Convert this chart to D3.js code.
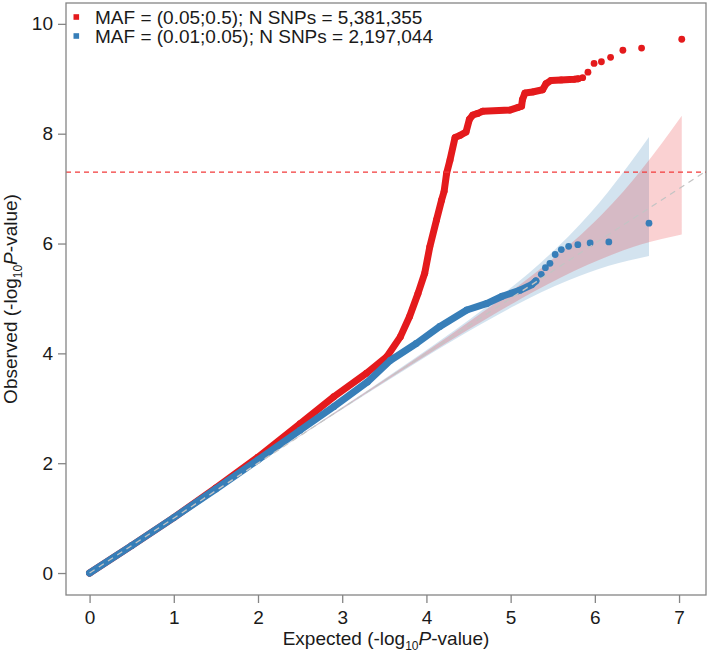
<!DOCTYPE html>
<html><head><meta charset="utf-8">
<script src="https://cdn.jsdelivr.net/npm/d3@7/dist/d3.min.js"></script>
<style>
html,body{margin:0;padding:0;background:#fff;}
svg{display:block;font-family:"Liberation Sans",Arial,Helvetica,sans-serif;}
</style></head><body>
<svg id="chart" width="709" height="657"></svg>
<script>
// ---------- data ----------
const xTickValues = [0, 1, 2, 3, 4, 5, 6, 7];
const yTickValues = [0, 2, 4, 6, 8, 10];
const seriesLabels = ["MAF = (0.05;0.5); N SNPs = 5,381,355", "MAF = (0.01;0.05); N SNPs = 2,197,044"];
const gwsLine = 7.30; // -log10(5e-8)

// common-variant series (red): dense part of the QQ curve
const redCurveExp = [0, 0.5, 1.0, 1.5, 2.0, 2.5, 2.9, 3.29, 3.53, 3.69, 3.80, 3.90, 3.98, 4.04, 4.12, 4.18, 4.21, 4.24, 4.28, 4.34, 4.40, 4.47, 4.51, 4.55, 4.61, 4.67, 4.99, 5.09, 5.13, 5.14, 5.17, 5.26, 5.38, 5.42, 5.48, 5.60, 5.753, 5.802];
const redCurveObs = [0, 0.5, 1.01, 1.55, 2.11, 2.72, 3.21, 3.64, 3.94, 4.30, 4.67, 5.09, 5.46, 5.94, 6.43, 6.79, 6.95, 7.28, 7.52, 7.93, 7.97, 8.03, 8.26, 8.34, 8.37, 8.41, 8.43, 8.48, 8.50, 8.62, 8.74, 8.76, 8.80, 8.91, 8.97, 8.98, 8.99, 9.00];
// red: isolated top points
const redPointExp = [5.856, 5.918, 5.991, 6.078, 6.187, 6.333, 6.555, 7.032];
const redPointObs = [9.02, 9.12, 9.28, 9.31, 9.39, 9.52, 9.56, 9.72];

// low-frequency series (blue): dense part
const blueCurveExp = [0, 0.5, 1.0, 1.5, 2.0, 2.5, 2.9, 3.3, 3.57, 3.88, 4.16, 4.48, 4.72, 4.9, 5.11, 5.25, 5.30];
const blueCurveObs = [0, 0.5, 1.01, 1.53, 2.06, 2.60, 3.03, 3.48, 3.87, 4.18, 4.49, 4.79, 4.91, 5.04, 5.15, 5.25, 5.32];
// blue: isolated top points
const bluePointExp = [5.364, 5.413, 5.467, 5.529, 5.602, 5.689, 5.798, 5.944, 6.166, 6.643];
const bluePointObs = [5.44, 5.56, 5.64, 5.80, 5.89, 5.95, 5.98, 6.01, 6.03, 6.37];

// 95% confidence bands
const redBandExp = [0, 2.731, 3.731, 4.254, 4.733, 5.036, 5.261, 5.441, 5.753, 6.078, 6.333, 6.555, 7.032];
const redBandLo  = [0, 2.723, 3.704, 4.206, 4.649, 4.919, 5.111, 5.259, 5.501, 5.720, 5.872, 5.985, 6.164];
const redBandHi  = [0, 2.740, 3.758, 4.304, 4.820, 5.161, 5.425, 5.644, 6.050, 6.520, 6.939, 7.347, 8.328];
const blueBandExp = [0, 2.342, 3.342, 3.865, 4.344, 4.647, 4.872, 5.052, 5.364, 5.689, 5.944, 6.166, 6.643];
const blueBandLo  = [0, 2.334, 3.315, 3.817, 4.260, 4.530, 4.722, 4.870, 5.112, 5.331, 5.483, 5.596, 5.775];
const blueBandHi  = [0, 2.351, 3.369, 3.915, 4.431, 4.772, 5.036, 5.255, 5.661, 6.131, 6.550, 6.958, 7.939];

// ---------- styles ----------
const RED = "#e41a1c", BLUE = "#377eb8";
const FONT = 19;

const svg = d3.select("#chart");
const W = 709, H = 657;
const L = 66, R = 706, T = 3, B = 595;

const x = d3.scaleLinear().domain([-0.28, 7.32]).range([L, R]);
const y = d3.scaleLinear().domain([-0.40, 10.38]).range([B, T]);

svg.append("rect").attr("width", W).attr("height", H).attr("fill", "#fff");

svg.append("defs").append("clipPath").attr("id", "clip")
  .append("rect").attr("x", L).attr("y", T).attr("width", R - L).attr("height", B - T);

const plot = svg.append("g").attr("clip-path", "url(#clip)");

const zip = (a, b) => a.map((v, i) => [v, b[i]]);
const zipBand = (e, lo, hi) => e.map((v, i) => ({e: v, lo: lo[i], hi: hi[i]}));

const area = d3.area().x(d => x(d.e)).y0(d => y(d.lo)).y1(d => y(d.hi)).curve(d3.curveMonotoneX);

// bands
plot.append("path").datum(zipBand(blueBandExp, blueBandLo, blueBandHi))
  .attr("d", area).attr("fill", BLUE).attr("fill-opacity", 0.22);
plot.append("path").datum(zipBand(redBandExp, redBandLo, redBandHi))
  .attr("d", area).attr("fill", RED).attr("fill-opacity", 0.2);

const line = d3.line().x(d => x(d[0])).y(d => y(d[1]));

function drawSeries(curveE, curveO, ptE, ptO, color) {
  const curve = zip(curveE, curveO);
  plot.append("path").datum(curve).attr("d", line)
    .attr("fill", "none").attr("stroke", color).attr("stroke-width", 7)
    .attr("stroke-linejoin", "round").attr("stroke-linecap", "round");
  plot.append("g").selectAll("circle").data(curve.concat(zip(ptE, ptO))).join("circle")
    .attr("cx", d => x(d[0])).attr("cy", d => y(d[1])).attr("r", 3.4).attr("fill", color);
}
drawSeries(redCurveExp, redCurveObs, redPointExp, redPointObs, RED);
drawSeries(blueCurveExp, blueCurveObs, bluePointExp, bluePointObs, BLUE);

// diagonal y = x
plot.append("line")
  .attr("x1", x(0)).attr("y1", y(0)).attr("x2", x(7.32)).attr("y2", y(7.32))
  .attr("stroke", "#c4c4c4").attr("stroke-width", 1.3).attr("stroke-dasharray", "6,5");

// genome-wide significance line
plot.append("line")
  .attr("x1", L).attr("x2", R).attr("y1", y(gwsLine)).attr("y2", y(gwsLine))
  .attr("stroke", "#f23a3a").attr("stroke-width", 1.3).attr("stroke-dasharray", "5,4");

// frame
svg.append("rect").attr("x", L).attr("y", T).attr("width", R - L).attr("height", B - T)
  .attr("fill", "none").attr("stroke", "#858585").attr("stroke-width", 1.3);

// axes
const xAxis = svg.append("g").attr("transform", `translate(0,${B})`)
  .call(d3.axisBottom(x).tickValues(xTickValues).tickFormat(d3.format("d")).tickSize(8).tickPadding(8).tickSizeOuter(0));
const yAxis = svg.append("g").attr("transform", `translate(${L},0)`)
  .call(d3.axisLeft(y).tickValues(yTickValues).tickFormat(d3.format("d")).tickSize(8).tickPadding(5).tickSizeOuter(0));
[xAxis, yAxis].forEach(g => {
  g.select(".domain").remove();
  g.selectAll(".tick line").attr("stroke", "#858585").attr("stroke-width", 1.3);
  g.selectAll(".tick text").attr("fill", "#1a1a1a").style("font-size", FONT + "px")
    .style("font-family", '"Liberation Sans",Arial,Helvetica,sans-serif');
});

// axis titles
function title(sel, pre) {
  sel.append("tspan").text(pre + " (-log");
  sel.append("tspan").attr("dy", 5).style("font-size", "12px").text("10");
  sel.append("tspan").attr("dy", -5).style("font-style", "italic").text("P");
  sel.append("tspan").text("-value)");
}
const xt = svg.append("text").attr("x", (L + R) / 2).attr("y", 645)
  .attr("text-anchor", "middle").attr("fill", "#1a1a1a").style("font-size", FONT + "px");
title(xt, "Expected");
const yt = svg.append("text").attr("transform", `translate(17,${(T + B) / 2}) rotate(-90)`)
  .attr("text-anchor", "middle").attr("fill", "#1a1a1a").style("font-size", FONT + "px");
title(yt, "Observed");

// legend
const legY = [{sq: 17, tx: 24}, {sq: 36, tx: 43}];
const legColors = [RED, BLUE];
const leg = svg.append("g");
seriesLabels.forEach((lab, i) => {
  leg.append("rect").attr("x", 73.5).attr("y", legY[i].sq - 2.8).attr("width", 5.6).attr("height", 5.6)
    .attr("fill", legColors[i]);
  leg.append("text").attr("x", 95).attr("y", legY[i].tx).attr("fill", "#1a1a1a")
    .style("font-size", FONT + "px").text(lab);
});
</script>
</body></html>
